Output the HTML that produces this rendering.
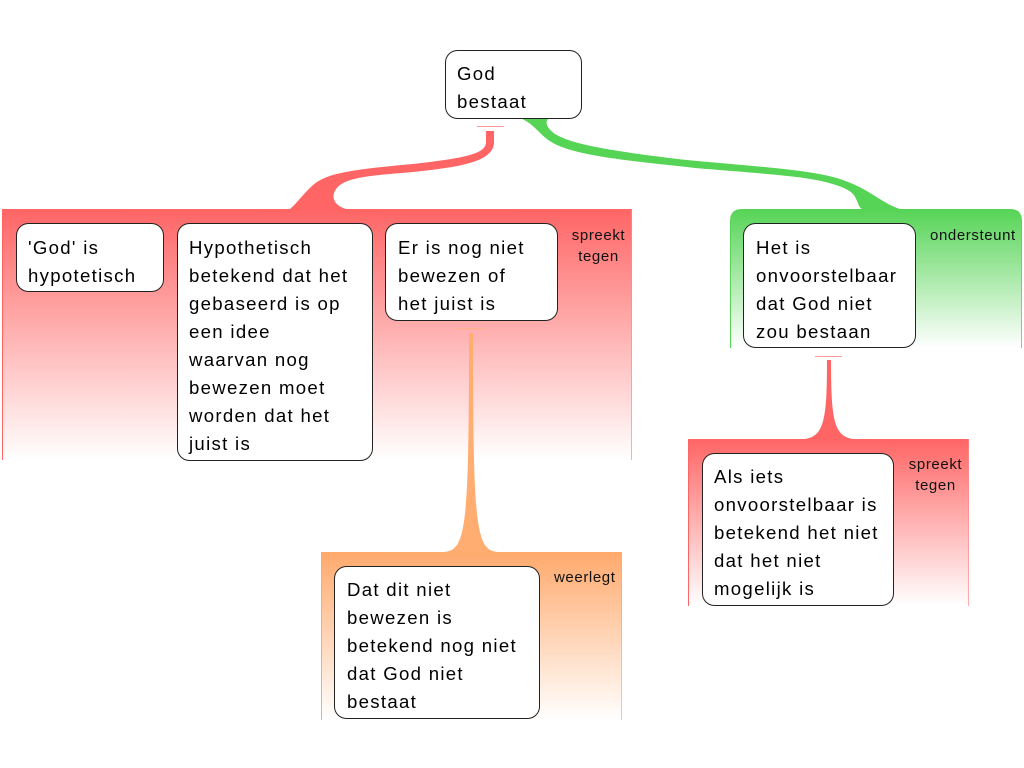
<!DOCTYPE html>
<html><head><meta charset="utf-8"><style>
html,body{margin:0;padding:0;background:#fff;}
svg{display:block;}
.t{font-family:"Liberation Sans",Arial,sans-serif;font-size:18.6px;letter-spacing:1.3px;fill:#000;}
.s{font-family:"Liberation Sans",Arial,sans-serif;font-size:15px;letter-spacing:0.6px;fill:#111;}
.box{fill:#fff;stroke:#222;stroke-width:1;}
</style></head><body>
<svg width="1024" height="768" viewBox="0 0 1024 768" xmlns="http://www.w3.org/2000/svg">
<defs>
<linearGradient id="gr" x1="0" y1="0" x2="0" y2="1"><stop offset="0" stop-color="#ff6565"/><stop offset="1" stop-color="#ffffff"/></linearGradient>
<linearGradient id="gg" x1="0" y1="0" x2="0" y2="1"><stop offset="0" stop-color="#55d455"/><stop offset="1" stop-color="#ffffff"/></linearGradient>
<linearGradient id="go" x1="0" y1="0" x2="0" y2="1"><stop offset="0" stop-color="#ffa96c"/><stop offset="1" stop-color="#ffffff"/></linearGradient>
</defs>

<!-- bands -->
<rect x="2" y="209" width="630" height="251" fill="url(#gr)"/>
<rect x="2" y="209" width="1" height="251" fill="#ff6565"/>
<rect x="631" y="209" width="1" height="251" fill="#ff8a8a" opacity="0.7"/>

<path d="M730,221 Q730,209 742,209 L1010,209 Q1022,209 1022,221 L1022,348 L730,348 Z" fill="url(#gg)"/>
<rect x="730" y="220" width="1" height="128" fill="#55d455"/>
<rect x="1021" y="220" width="1" height="128" fill="#55d455" opacity="0.8"/>

<rect x="321" y="552" width="301" height="168" fill="url(#go)"/>
<rect x="321" y="552" width="1" height="168" fill="#ffa96c"/>
<rect x="621" y="552" width="1" height="168" fill="#ffa96c" opacity="0.7"/>

<rect x="688" y="439" width="281" height="167" fill="url(#gr)"/>
<rect x="688" y="439" width="1" height="167" fill="#ff6565"/>
<rect x="968" y="439" width="1" height="167" fill="#ff8a8a" opacity="0.7"/>

<!-- connectors -->
<rect x="477" y="126" width="27" height="1" fill="#ff8080" opacity="0.8"/>
<path d="M486,131 L494,131 L494,142 C494,162 460,167 413,172 C380,175 352,176 340,185 C331,192 330,204 346,209 L290,209 C298,202 303,194 312,186 C325,174 345,170 413,164 C465,158 486,154 486,142 Z" fill="#ff6565"/>

<path d="M520,118 L550,118 C544,120 546,128 555,134 C570,143 600,150 687,160 C760,167 820,170 848,182 C870,190 885,205 900,209 L862,209 C858,207 858,200 853,194 C846,186 820,179 787,176 C740,171 700,169 687,167 C620,160 575,155 553,143 C540,136 535,124 520,118 Z" fill="#55d455"/>

<rect x="458" y="328" width="26" height="1" fill="#ffb27a" opacity="0.8"/>
<path d="M469,333 L473,333 C473,530 476,550 498,552 L444,552 C466,550 469,530 469,333 Z" fill="#ffad70"/>

<rect x="815" y="356" width="27" height="1" fill="#ff8080" opacity="0.8"/>
<path d="M827,360 L831,360 C831,420 834,436 853,439 L805,439 C824,436 827,420 827,360 Z" fill="#ff6565"/>

<!-- boxes -->
<rect class="box" x="445.5" y="50.5" width="136" height="68" rx="12"/>
<text class="t" x="457" y="80">God</text>
<text class="t" x="457" y="108">bestaat</text>

<rect class="box" x="16.5" y="223.5" width="147" height="68" rx="12"/>
<text class="t" x="28" y="254">'God' is</text>
<text class="t" x="28" y="282">hypotetisch</text>

<rect class="box" x="177.5" y="223.5" width="195" height="237" rx="12"/>
<text class="t" x="189" y="254">Hypothetisch</text>
<text class="t" x="189" y="282">betekend dat het</text>
<text class="t" x="189" y="310">gebaseerd is op</text>
<text class="t" x="189" y="338">een idee</text>
<text class="t" x="189" y="366">waarvan nog</text>
<text class="t" x="189" y="394">bewezen moet</text>
<text class="t" x="189" y="422">worden dat het</text>
<text class="t" x="189" y="450">juist is</text>

<rect class="box" x="385.5" y="223.5" width="172" height="97" rx="12"/>
<text class="t" x="398" y="254">Er is nog niet</text>
<text class="t" x="398" y="282">bewezen of</text>
<text class="t" x="398" y="310">het juist is</text>

<text class="s" x="598.5" y="240" text-anchor="middle">spreekt</text>
<text class="s" x="598.5" y="261" text-anchor="middle">tegen</text>

<rect class="box" x="743.5" y="223.5" width="172" height="124" rx="12"/>
<text class="t" x="756" y="254">Het is</text>
<text class="t" x="756" y="282">onvoorstelbaar</text>
<text class="t" x="756" y="310">dat God niet</text>
<text class="t" x="756" y="338">zou bestaan</text>

<text class="s" x="930" y="240">ondersteunt</text>

<rect class="box" x="334.5" y="566.5" width="205" height="152" rx="12"/>
<text class="t" x="347" y="596">Dat dit niet</text>
<text class="t" x="347" y="624">bewezen is</text>
<text class="t" x="347" y="652">betekend nog niet</text>
<text class="t" x="347" y="680">dat God niet</text>
<text class="t" x="347" y="708">bestaat</text>

<text class="s" x="554" y="582">weerlegt</text>

<rect class="box" x="702.5" y="453.5" width="191" height="152" rx="12"/>
<text class="t" x="714" y="483">Als iets</text>
<text class="t" x="714" y="511">onvoorstelbaar is</text>
<text class="t" x="714" y="539">betekend het niet</text>
<text class="t" x="714" y="567">dat het niet</text>
<text class="t" x="714" y="595">mogelijk is</text>

<text class="s" x="935.5" y="469" text-anchor="middle">spreekt</text>
<text class="s" x="935.5" y="490" text-anchor="middle">tegen</text>
</svg>
</body></html>
